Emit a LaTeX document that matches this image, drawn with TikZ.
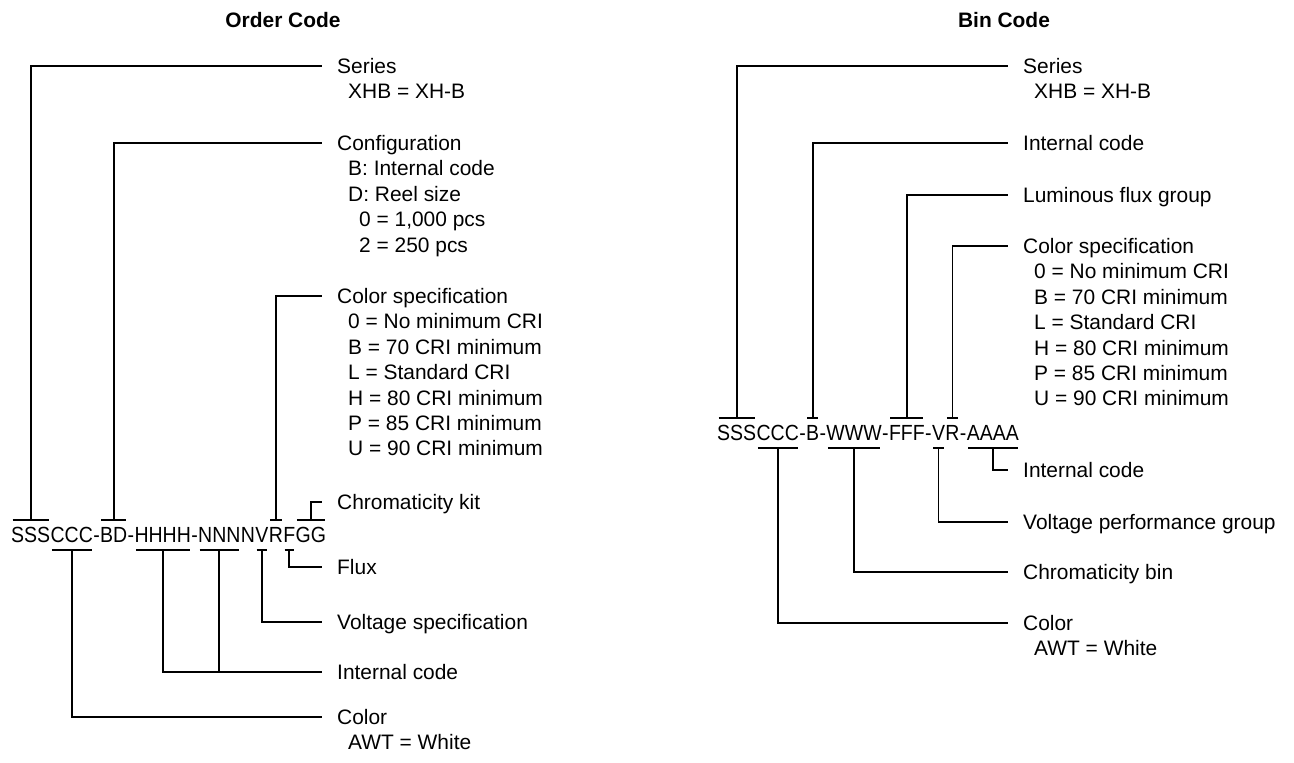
\documentclass[tikz,border=0pt]{standalone}
\usepackage{fontspec}
\setmainfont{Liberation Sans}
\newfontfamily\codefont[FakeStretch=0.89]{Liberation Sans}
\usetikzlibrary{positioning}

\tikzset{
  seg/.style={inner xsep=0pt, inner ysep=6bp, text height=16bp, text depth=2bp,
              font=\codefont\fontsize{22}{26}\selectfont},
  lbl/.style={anchor=base west, inner xsep=15bp, inner ysep=0pt,
              font=\fontsize{21}{25.5}\selectfont},
  ttl/.style={font=\fontsize{21}{25}\selectfont\bfseries},
  wire/.style={line width=1.8bp}
}
\newcommand{\lbltext}[1]{\begin{tabular}[t]{@{}l@{}}#1\end{tabular}}

\begin{document}
\begin{tikzpicture}[x=1bp,y=-1bp]
\useasboundingbox (0,0) rectangle (1294,763);

\node[ttl] (ttl-ord) at (283,20) {Order Code};
\node[ttl] (ttl-bin) at (1004,20) {Bin Code};

% order code
\node[seg, anchor=base west] (o-ser) at (11,542) {SSS};
\node[seg, right=0pt of o-ser] (o-col) {CCC};
\node[seg, right=0pt of o-col] (o-d1) {-};
\node[seg, right=0pt of o-d1] (o-cfg) {BD};
\node[seg, right=0pt of o-cfg] (o-d2) {-};
\node[seg, right=0pt of o-d2] (o-hh) {HHHH};
\node[seg, right=0pt of o-hh] (o-d3) {-};
\node[seg, right=0pt of o-d3] (o-nnn) {NNN};
\node[seg, right=0pt of o-nnn] (o-n4) {N};
\node[seg, right=0pt of o-n4] (o-vlt) {V};
\node[seg, right=0pt of o-vlt] (o-csp) {R};
\node[seg, right=0pt of o-csp] (o-flx) {F};
\node[seg, right=0pt of o-flx] (o-kit) {GG};

\node[lbl] (o-t-ser) at (322,73.5) {\lbltext{Series\\\hspace*{11bp}XHB = XH-B}};
\node[lbl] (o-t-cfg) at (322,150.5) {\lbltext{Configuration\\
  \hspace*{11bp}B: Internal code\\\hspace*{11bp}D: Reel size\\
  \hspace*{22bp}0 = 1,000 pcs\\\hspace*{22bp}2 = 250 pcs}};
\node[lbl] (o-t-csp) at (322,303.5) {\lbltext{Color specification\\
  \hspace*{11bp}0 = No minimum CRI\\\hspace*{11bp}B = 70 CRI minimum\\
  \hspace*{11bp}L = Standard CRI\\\hspace*{11bp}H = 80 CRI minimum\\
  \hspace*{11bp}P = 85 CRI minimum\\\hspace*{11bp}U = 90 CRI minimum}};
\node[lbl] (o-t-kit) at (322,509.5) {Chromaticity kit};
\node[lbl] (o-t-flx) at (322,574.5) {Flux};
\node[lbl] (o-t-vlt) at (322,629.5) {Voltage specification};
\node[lbl] (o-t-int) at (322,679.5) {Internal code};
\node[lbl] (o-t-col) at (322,724.5) {\lbltext{Color\\\hspace*{11bp}AWT = White}};
\coordinate (o-a-int) at ([yshift=7.5bp]o-t-int.base west);

\foreach \s in {o-ser,o-cfg,o-csp,o-kit}
  \draw[wire] ([xshift=1.5bp]\s.north west) -- ([xshift=-1.5bp]\s.north east);
\foreach \s in {o-col,o-hh,o-nnn,o-vlt,o-flx}
  \draw[wire] ([xshift=1.5bp]\s.south west) -- ([xshift=-1.5bp]\s.south east);

\draw[wire] (o-ser.north) |- ([yshift=7.5bp]o-t-ser.base west);
\draw[wire] (o-cfg.north) |- ([yshift=7.5bp]o-t-cfg.base west);
\draw[wire] (o-csp.north) |- ([yshift=7.5bp]o-t-csp.base west);
\draw[wire] (o-kit.north) |- ([yshift=7.5bp]o-t-kit.base west);
\draw[wire] (o-flx.south) |- ([yshift=7.5bp]o-t-flx.base west);
\draw[wire] (o-vlt.south) |- ([yshift=7.5bp]o-t-vlt.base west);
\draw[wire] (o-hh.south) |- (o-a-int);
\draw[wire] (o-nnn.south) -- (o-nnn.south |- o-a-int);
\draw[wire] (o-col.south) |- ([yshift=7.5bp]o-t-col.base west);

% bin code
\node[seg, anchor=base west] (b-ser) at (717,440) {SSS};
\node[seg, right=0pt of b-ser] (b-col) {CCC};
\node[seg, right=0pt of b-col] (b-d1) {-};
\node[seg, right=0pt of b-d1] (b-int) {B};
\node[seg, right=0pt of b-int] (b-d2) {-};
\node[seg, right=0pt of b-d2] (b-chr) {WWW};
\node[seg, right=0pt of b-chr] (b-d3) {-};
\node[seg, right=0pt of b-d3] (b-flx) {FFF};
\node[seg, right=0pt of b-flx] (b-d4) {-};
\node[seg, right=0pt of b-d4] (b-vlt) {V};
\node[seg, right=0pt of b-vlt] (b-csp) {R};
\node[seg, right=0pt of b-csp] (b-d5) {-};
\node[seg, right=0pt of b-d5] (b-aaa) {AAAA};

\node[lbl] (b-t-ser) at (1008,73.5) {\lbltext{Series\\\hspace*{11bp}XHB = XH-B}};
\node[lbl] (b-t-int) at (1008,150.5) {Internal code};
\node[lbl] (b-t-flx) at (1008,202.5) {Luminous flux group};
\node[lbl] (b-t-csp) at (1008,253.5) {\lbltext{Color specification\\
  \hspace*{11bp}0 = No minimum CRI\\\hspace*{11bp}B = 70 CRI minimum\\
  \hspace*{11bp}L = Standard CRI\\\hspace*{11bp}H = 80 CRI minimum\\
  \hspace*{11bp}P = 85 CRI minimum\\\hspace*{11bp}U = 90 CRI minimum}};
\node[lbl] (b-t-aaa) at (1008,477.5) {Internal code};
\node[lbl] (b-t-vlt) at (1008,529.5) {Voltage performance group};
\node[lbl] (b-t-chr) at (1008,579.5) {Chromaticity bin};
\node[lbl] (b-t-col) at (1008,630.5) {\lbltext{Color\\\hspace*{11bp}AWT = White}};

\foreach \s in {b-ser,b-int,b-flx,b-csp}
  \draw[wire] ([xshift=1.5bp]\s.north west) -- ([xshift=-1.5bp]\s.north east);
\foreach \s in {b-col,b-chr,b-vlt,b-aaa}
  \draw[wire] ([xshift=1.5bp]\s.south west) -- ([xshift=-1.5bp]\s.south east);

\draw[wire] (b-ser.north) |- ([yshift=7.5bp]b-t-ser.base west);
\draw[wire] (b-int.north) |- ([yshift=7.5bp]b-t-int.base west);
\draw[wire] (b-flx.north) |- ([yshift=7.5bp]b-t-flx.base west);
\draw[wire] (b-csp.north) |- ([yshift=7.5bp]b-t-csp.base west);
\draw[wire] (b-aaa.south) |- ([yshift=7.5bp]b-t-aaa.base west);
\draw[wire] (b-vlt.south) |- ([yshift=7.5bp]b-t-vlt.base west);
\draw[wire] (b-chr.south) |- ([yshift=7.5bp]b-t-chr.base west);
\draw[wire] (b-col.south) |- ([yshift=7.5bp]b-t-col.base west);
\end{tikzpicture}
\end{document}
